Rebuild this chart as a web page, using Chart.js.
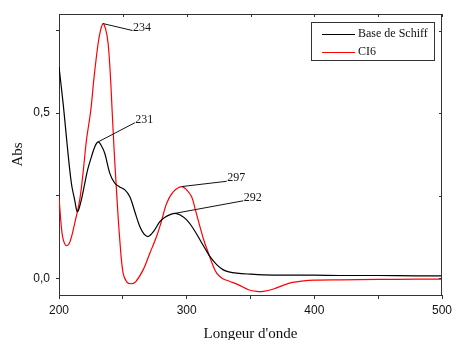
<!DOCTYPE html>
<html><head><meta charset="utf-8">
<script src="https://cdn.jsdelivr.net/npm/chart.js@4/dist/chart.umd.min.js"></script>
<style>html,body{margin:0;padding:0;background:#fff}canvas{display:block}</style>
</head><body>
<canvas id="c" width="452" height="340"></canvas>
<script>
// ---- data ----
const schiffWl = [200,203.5,206.5,209.7,212.3,214.4,217,220.2,222.5,225.4,228,230.6,233,235.9,239.8,243.7,247.5,251.6,255.5,259.4,263.3,266.5,269.9,274,279,283,287,290.8,295,300,305,310.4,314.5,318.3,323.5,328.7,333,339.2,349.7,360,380,400,420,450,480,500];
const schiffAbs = [0.64,0.52,0.40,0.288,0.237,0.202,0.23,0.288,0.33,0.368,0.398,0.413,0.403,0.378,0.318,0.288,0.277,0.268,0.247,0.202,0.157,0.135,0.127,0.142,0.172,0.185,0.193,0.197,0.192,0.177,0.152,0.117,0.09,0.066,0.042,0.026,0.02,0.016,0.013,0.011,0.010,0.010,0.009,0.009,0.008,0.008];
const ci6Wl = [200,202,203.5,205.8,208.5,212.3,216.2,218.8,221.5,224.9,227.5,230.6,232.5,234.5,236.5,238.5,240.3,241.6,243.2,245,247.6,250.2,253,256.3,260,265.9,271,276.4,280,284.3,289.5,296.1,300,303.9,307,310.4,313.5,317,320,323.5,328,334,341,348.4,355,360,368,376,383,390,400,420,450,480,500];
const ci6Abs = [0.245,0.15,0.115,0.099,0.11,0.167,0.237,0.318,0.418,0.509,0.61,0.71,0.75,0.771,0.755,0.71,0.61,0.509,0.388,0.268,0.117,0.016,-0.01,-0.016,-0.01,0.026,0.075,0.127,0.17,0.227,0.262,0.278,0.268,0.247,0.205,0.157,0.115,0.077,0.045,0.016,0.0,-0.009,-0.02,-0.034,-0.039,-0.039,-0.032,-0.02,-0.012,-0.008,-0.005,-0.004,-0.003,-0.002,-0.002];
const seriesNames = ['Base de Schiff','CI6'];
const xTickValues = [200,250,300,350,400,450,500];
const xTickLabels = ['200','','300','','400','','500'];
const yTickValues = [0,0.25,0.5,0.75];
const yTickLabels = ['0,0','','0,5',''];
const xTitle = "Longeur d'onde";
const yTitle = 'Abs';
// peak annotations: label, peak point, end of leader line (data coords)
const peakLabels = ['234','231','297','292'];
const peakX = [234.5,230.6,296.1,290.8];
const peakY = [0.771,0.413,0.278,0.197];
const leaderEndX = [257.6,259.4,331.4,344.4];
const leaderEndY = [0.750,0.471,0.294,0.235];

const toPts = (xs, ys) => xs.map((x, i) => ({x, y: ys[i]}));
const AXIS = '#333';

const framePlugin = {
  id: 'frame',
  afterDatasetsDraw(chart) {
    const {ctx, chartArea: a, scales} = chart;
    ctx.save();
    ctx.strokeStyle = AXIS; ctx.lineWidth = 1;
    ctx.beginPath();
    ctx.moveTo(a.left, a.top + 0.5); ctx.lineTo(a.right, a.top + 0.5);
    ctx.moveTo(a.right - 0.5, a.top); ctx.lineTo(a.right - 0.5, a.bottom);
    xTickValues.forEach(v => { const px = Math.round(scales.x.getPixelForValue(v)) + 0.5; ctx.moveTo(px, a.top); ctx.lineTo(px, a.top + 3); });
    yTickValues.forEach(v => { const py = Math.round(scales.y.getPixelForValue(v)) + 0.5; ctx.moveTo(a.right, py); ctx.lineTo(a.right - 3, py); });
    ctx.stroke();
    // peak annotations
    ctx.strokeStyle = '#111'; ctx.fillStyle = '#111';
    ctx.font = '12px "Liberation Serif", serif';
    ctx.textBaseline = 'middle'; ctx.textAlign = 'left';
    peakLabels.forEach((lab, i) => {
      const x0 = scales.x.getPixelForValue(peakX[i]), y0 = scales.y.getPixelForValue(peakY[i]);
      const x1 = scales.x.getPixelForValue(leaderEndX[i]), y1 = scales.y.getPixelForValue(leaderEndY[i]);
      ctx.beginPath(); ctx.moveTo(x0, y0); ctx.lineTo(x1, y1); ctx.stroke();
      ctx.fillText(lab, x1 + 0.5, y1 - 3);
    });
    // legend box
    const bw = 123, bh = 38, bx = a.right - 8 - bw, by = a.top + 8;
    ctx.strokeStyle = AXIS; ctx.lineWidth = 1;
    ctx.strokeRect(Math.round(bx) + 0.5, Math.round(by) + 0.5, bw, bh);
    chart.data.datasets.forEach((ds, i) => {
      const yy = by + 12 + i * 18;
      ctx.strokeStyle = ds.borderColor; ctx.lineWidth = 1;
      ctx.beginPath(); ctx.moveTo(bx + 11, Math.round(yy) + 0.5); ctx.lineTo(bx + 44, Math.round(yy) + 0.5); ctx.stroke();
      ctx.fillStyle = '#111';
      ctx.fillText(ds.label, bx + 47, yy);
    });
    ctx.restore();
  }
};

new Chart(document.getElementById('c'), {
  type: 'scatter',
  data: {
    datasets: [
      {label: seriesNames[0], data: toPts(schiffWl, schiffAbs), showLine: true, borderColor: '#000000', borderWidth: 1.2, pointRadius: 0, tension: 0.35},
      {label: seriesNames[1], data: toPts(ci6Wl, ci6Abs), showLine: true, borderColor: '#ff0000', borderWidth: 1.2, pointRadius: 0, tension: 0.35}
    ]
  },
  options: {
    responsive: false, animation: false,
    layout: {padding: {top: 14, right: 10, left: 0, bottom: 0}},
    plugins: {legend: {display: false}, tooltip: {enabled: false}},
    scales: {
      x: {
        type: 'linear', min: 200, max: 500,
        afterBuildTicks: s => { s.ticks = xTickValues.map(v => ({value: v})); },
        afterFit: s => { s.height = 45; s.paddingLeft = 0; s.paddingRight = 0; },
        grid: {drawOnChartArea: false, tickLength: 4, color: AXIS},
        border: {color: AXIS, width: 1},
        ticks: {autoSkip: false, maxRotation: 0, padding: 4, color: '#111', font: {family: '"Liberation Sans", Arial, sans-serif', size: 12},
          callback: v => { const i = xTickValues.indexOf(v); return i >= 0 ? xTickLabels[i] : ''; }},
        title: {display: true, text: xTitle, color: '#111', padding: {top: 0, bottom: -2}, font: {family: '"Liberation Serif", serif', size: 15, lineHeight: 1}}
      },
      y: {
        type: 'linear', min: -0.05, max: 0.8,
        afterBuildTicks: s => { s.ticks = yTickValues.map(v => ({value: v})); },
        afterFit: s => { s.width = 59; s.paddingTop = 0; s.paddingBottom = 0; },
        grid: {drawOnChartArea: false, tickLength: 3, color: AXIS},
        border: {color: AXIS, width: 1},
        ticks: {autoSkip: false, padding: 6, color: '#111', font: {family: '"Liberation Sans", Arial, sans-serif', size: 12},
          callback: v => { const i = yTickValues.indexOf(v); return i >= 0 ? yTickLabels[i] : ''; }},
        title: {display: true, text: yTitle, color: '#111', padding: {top: 11, bottom: 0}, font: {family: '"Liberation Serif", serif', size: 15, lineHeight: 1}}
      }
    }
  },
  plugins: [framePlugin]
});
</script>
</body></html>
